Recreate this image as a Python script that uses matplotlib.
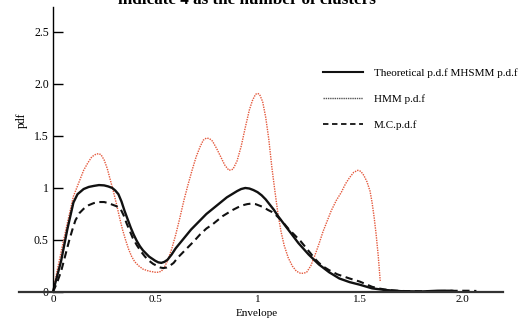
import matplotlib
matplotlib.use("Agg")
import matplotlib.pyplot as plt
from matplotlib.lines import Line2D

plt.rcParams["font.family"] = ["Liberation Serif", "DejaVu Serif"]

# (envelope, pdf) values
hmm_pts = [(0, 0), (0.02, 0.2), (0.05, 0.48), (0.07, 0.66), (0.1, 0.92), (0.12, 1.02),
           (0.15, 1.17), (0.17, 1.24), (0.19, 1.30), (0.21, 1.325), (0.224, 1.33),
           (0.235, 1.32), (0.25, 1.27), (0.265, 1.19), (0.28, 1.08), (0.295, 0.97),
           (0.31, 0.85), (0.325, 0.72), (0.34, 0.60), (0.355, 0.5), (0.37, 0.41),
           (0.385, 0.34), (0.40, 0.29), (0.42, 0.25), (0.44, 0.22), (0.47, 0.2),
           (0.5, 0.19), (0.515, 0.19), (0.53, 0.2), (0.545, 0.24), (0.56, 0.30),
           (0.58, 0.41), (0.6, 0.55), (0.62, 0.71), (0.64, 0.88), (0.66, 1.03),
           (0.68, 1.17), (0.70, 1.3), (0.72, 1.40), (0.735, 1.46), (0.75, 1.48),
           (0.765, 1.475), (0.78, 1.45), (0.80, 1.38), (0.82, 1.30), (0.84, 1.22),
           (0.86, 1.17), (0.88, 1.18), (0.90, 1.26), (0.92, 1.40), (0.94, 1.58),
           (0.96, 1.75), (0.975, 1.84), (0.99, 1.9), (1.0, 1.91), (1.01, 1.9),
           (1.025, 1.83), (1.04, 1.68), (1.055, 1.47), (1.07, 1.2), (1.085, 0.97),
           (1.10, 0.75), (1.115, 0.58), (1.13, 0.45), (1.15, 0.33), (1.17, 0.25),
           (1.19, 0.2), (1.21, 0.18), (1.225, 0.18), (1.24, 0.19), (1.26, 0.25),
           (1.28, 0.35), (1.30, 0.46), (1.32, 0.58), (1.34, 0.68), (1.36, 0.78),
           (1.385, 0.88), (1.41, 0.96), (1.43, 1.04), (1.45, 1.10), (1.47, 1.15),
           (1.49, 1.17), (1.505, 1.16), (1.52, 1.12), (1.535, 1.06), (1.55, 0.97),
           (1.56, 0.86), (1.57, 0.72), (1.58, 0.55), (1.59, 0.35), (1.60, 0.10)]

theo_pts = [(0, 0), (0.02, 0.15), (0.04, 0.3), (0.07, 0.6), (0.1, 0.86), (0.12, 0.94),
            (0.15, 0.99), (0.175, 1.01), (0.2, 1.02), (0.225, 1.028), (0.25, 1.025),
            (0.27, 1.015), (0.29, 1.0), (0.305, 0.975), (0.32, 0.94), (0.335, 0.87),
            (0.35, 0.78), (0.365, 0.7), (0.38, 0.62), (0.395, 0.55), (0.41, 0.49),
            (0.425, 0.44), (0.44, 0.4), (0.455, 0.37), (0.47, 0.34), (0.485, 0.32),
            (0.5, 0.30), (0.515, 0.285), (0.53, 0.28), (0.545, 0.29), (0.56, 0.31),
            (0.58, 0.36), (0.6, 0.42), (0.625, 0.48), (0.65, 0.54), (0.675, 0.6),
            (0.7, 0.65), (0.725, 0.70), (0.75, 0.75), (0.775, 0.79), (0.8, 0.83),
            (0.825, 0.87), (0.85, 0.91), (0.875, 0.94), (0.9, 0.97), (0.92, 0.99),
            (0.94, 1.0), (0.96, 0.995), (0.98, 0.98), (1.0, 0.96), (1.02, 0.93),
            (1.04, 0.89), (1.06, 0.84), (1.08, 0.79), (1.1, 0.73), (1.15, 0.6),
            (1.2, 0.47), (1.25, 0.36), (1.3, 0.265), (1.35, 0.19), (1.4, 0.13),
            (1.45, 0.095), (1.5, 0.07), (1.56, 0.035), (1.62, 0.02), (1.7, 0.008),
            (1.8, 0.005), (1.88, 0.012), (1.95, 0.012), (1.97, 0.005)]

mc_pts = [(0, 0), (0.02, 0.09), (0.04, 0.2), (0.06, 0.35), (0.08, 0.5), (0.095, 0.6),
          (0.11, 0.69), (0.13, 0.76), (0.15, 0.8), (0.175, 0.835), (0.2, 0.855),
          (0.225, 0.865), (0.25, 0.865), (0.27, 0.855), (0.29, 0.84), (0.31, 0.825),
          (0.33, 0.8), (0.345, 0.74), (0.36, 0.66), (0.375, 0.59), (0.39, 0.52),
          (0.41, 0.45), (0.43, 0.39), (0.45, 0.34), (0.47, 0.3), (0.49, 0.27),
          (0.51, 0.25), (0.525, 0.235), (0.54, 0.23), (0.555, 0.235), (0.57, 0.25),
          (0.59, 0.28), (0.61, 0.33), (0.635, 0.38), (0.66, 0.43), (0.69, 0.49),
          (0.72, 0.555), (0.75, 0.61), (0.78, 0.65), (0.805, 0.69), (0.83, 0.73),
          (0.855, 0.76), (0.88, 0.79), (0.905, 0.815), (0.93, 0.835), (0.95, 0.845),
          (0.97, 0.85), (0.99, 0.845), (1.01, 0.83), (1.03, 0.815), (1.05, 0.79),
          (1.07, 0.77), (1.09, 0.74), (1.12, 0.68), (1.15, 0.61), (1.18, 0.55),
          (1.21, 0.49), (1.235, 0.43), (1.26, 0.37), (1.28, 0.32), (1.3, 0.28),
          (1.325, 0.24), (1.35, 0.21), (1.37, 0.19), (1.39, 0.17), (1.42, 0.15),
          (1.45, 0.13), (1.475, 0.115), (1.5, 0.1), (1.53, 0.075), (1.56, 0.05),
          (1.59, 0.035), (1.62, 0.025), (1.66, 0.015), (1.7, 0.01), (1.75, 0.008),
          (1.8, 0.007), (1.85, 0.008), (1.9, 0.01), (1.95, 0.011), (2.0, 0.012),
          (2.03, 0.012), (2.07, 0.01)]

xticks = [0, 0.5, 1, 1.5, 2.0]
xtick_labels = ["0", "0.5", "1", "1.5", "2.0"]
yticks = [0, 0.5, 1, 1.5, 2.0, 2.5]
ytick_labels = ["0", "0.5", "1", "1.5", "2.0", "2.5"]
labels = ["Theoretical p.d.f MHSMM p.d.f", "HMM p.d.f", "M.C.p.d.f"]

fig = plt.figure(figsize=(5.23, 3.2), dpi=100)
ax = fig.add_axes([19 / 523, 1 - 292 / 320, 484 / 523, 285 / 320])

x, y = zip(*hmm_pts)
ax.plot(x, y, color="#e4583c", lw=1.0, ls=(0, (1, 0.8)))
x, y = zip(*theo_pts)
ax.plot(x, y, color="#111111", lw=1.7, solid_joinstyle="round")
x, y = zip(*mc_pts)
ax.plot(x, y, color="#111111", lw=1.5, ls=(0, (3.5, 2.2)))

ax.set_xlim(-0.166, 2.2)
ax.set_ylim(0, 2.74)

ax.spines["top"].set_visible(False)
ax.spines["right"].set_visible(False)
ax.spines["left"].set_position(("data", 0))
ax.spines["left"].set_linewidth(1.0)
ax.spines["bottom"].set_linewidth(1.6)
ax.spines["bottom"].set_color("#333333")

ax.set_xticks(xticks, xtick_labels)
ax.set_yticks(yticks, ytick_labels)
ax.tick_params(axis="x", length=0, pad=2.5, labelsize=8)
ax.tick_params(axis="y", direction="in", length=7, width=1.0, pad=3, labelsize=8.5)

handles = [Line2D([], [], color="#111111", lw=1.5),
           Line2D([], [], color="#555555", lw=1.0, ls=(0, (1, 0.6))),
           Line2D([], [], color="#111111", lw=1.3, ls=(0, (3, 2)))]
fig.legend(handles, labels, loc="upper left", bbox_to_anchor=(323 / 523, 1 - 68 / 320),
           frameon=False, fontsize=8, handlelength=3.6, handletextpad=1.0,
           labelspacing=1.45, borderpad=0, borderaxespad=0)

fig.text(247 / 523, 1 - 3.5 / 320, "indicate 4 as the number of clusters",
         ha="center", va="baseline", fontsize=12.3, fontweight="bold")
fig.text(22 / 523, 1 - 120 / 320, "pdf", rotation=90, ha="center", va="center", fontsize=8.5)
fig.text(257 / 523, 1 - 316.5 / 320, "Envelope", ha="center", va="baseline", fontsize=8)

fig.savefig("out.png", dpi=100)
